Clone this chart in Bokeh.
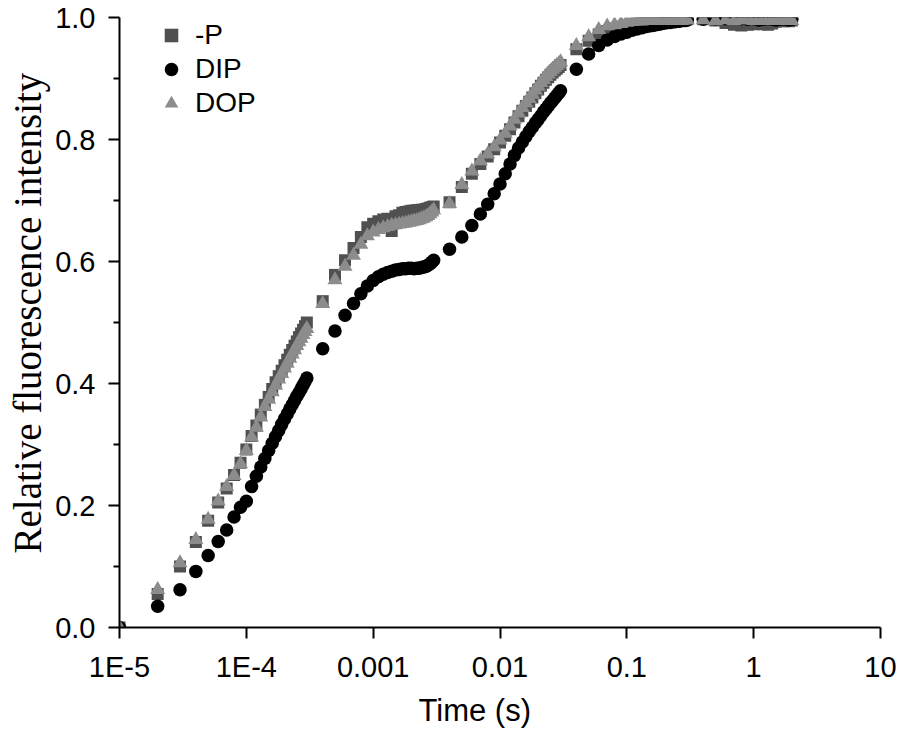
from bokeh.plotting import figure
from bokeh.models import (ColumnDataSource, Range1d, FixedTicker, CustomJSTickFormatter,
                          NumeralTickFormatter, Legend, LegendItem, Title)
from bokeh.embed import file_html
from bokeh.resources import INLINE

# ---------------- data ----------------
time_s = [
    1e-5, 2e-5, 3e-5, 4e-5, 5e-5, 6e-5, 7e-5, 8e-5, 9e-5, 1.0e-4,
    1.1e-4, 1.2e-4, 1.3e-4, 1.4e-4, 1.5e-4, 1.6e-4, 1.7e-4, 1.8e-4, 1.9e-4, 2.0e-4,
    2.1e-4, 2.2e-4, 2.3e-4, 2.4e-4, 2.5e-4, 2.6e-4, 2.7e-4, 2.8e-4, 2.9e-4, 3.0e-4,
    4e-4, 5e-4, 6e-4, 7e-4, 8e-4, 9e-4, 1.0e-3, 1.1e-3, 1.2e-3, 1.3e-3,
    1.4e-3, 1.5e-3, 1.6e-3, 1.7e-3, 1.8e-3, 1.9e-3, 2.0e-3, 2.1e-3, 2.2e-3, 2.3e-3,
    2.4e-3, 2.5e-3, 2.6e-3, 2.7e-3, 2.8e-3, 2.9e-3, 3.0e-3,
    0.004, 0.005, 0.006, 0.007, 0.008, 0.009, 0.010, 0.011, 0.012, 0.013,
    0.014, 0.015, 0.016, 0.017, 0.018, 0.019, 0.020, 0.021, 0.022, 0.023,
    0.024, 0.025, 0.026, 0.027, 0.028, 0.029, 0.030,
    0.04, 0.05, 0.06, 0.07, 0.08, 0.09, 0.10, 0.11, 0.12, 0.13,
    0.14, 0.15, 0.16, 0.17, 0.18, 0.19, 0.20, 0.21, 0.22, 0.23,
    0.24, 0.25, 0.26, 0.27, 0.28, 0.29, 0.30,
    0.4, 0.5, 0.6, 0.7, 0.8, 0.9, 1.0, 1.1, 1.2, 1.3,
    1.4, 1.5, 1.6, 1.7, 1.8, 1.9, 2.0,
]

minus_p = [
    0.000, 0.055, 0.100, 0.140, 0.175, 0.205, 0.228, 0.250, 0.270, 0.292,
    0.314, 0.331, 0.349, 0.365, 0.378, 0.391, 0.402, 0.412, 0.421, 0.430,
    0.439, 0.447, 0.455, 0.462, 0.469, 0.476, 0.482, 0.488, 0.494, 0.500,
    0.535, 0.578, 0.602, 0.622, 0.640, 0.656, 0.662, 0.666, 0.669, 0.670,
    0.650, 0.674, 0.676, 0.680, 0.681, 0.682, 0.683, 0.683, 0.684, 0.684,
    0.685, 0.685, 0.686, 0.687, 0.688, 0.689, 0.690,
    0.697, 0.722, 0.744, 0.760, 0.772, 0.784, 0.795, 0.806, 0.817, 0.828,
    0.838, 0.847, 0.855, 0.862, 0.869, 0.876, 0.882, 0.888, 0.893, 0.898,
    0.902, 0.906, 0.910, 0.913, 0.916, 0.919, 0.922,
    0.948, 0.962, 0.972, 0.978, 0.982, 0.985, 0.987, 0.989, 0.990, 0.991,
    0.992, 0.993, 0.993, 0.994, 0.994, 0.995, 0.995, 0.996, 0.996, 0.996,
    0.997, 0.997, 0.997, 0.997, 0.997, 0.997, 0.997,
    0.997, 0.995, 0.991, 0.988, 0.987, 0.988, 0.989, 0.991, 0.989, 0.988,
    0.990, 0.993, 0.995, 0.994, 0.995, 0.994, 0.995,
]

dip = [
    0.000, 0.035, 0.062, 0.092, 0.118, 0.141, 0.160, 0.181, 0.197, 0.207,
    0.231, 0.248, 0.263, 0.277, 0.290, 0.302, 0.313, 0.323, 0.333, 0.342,
    0.350, 0.358, 0.365, 0.372, 0.379, 0.385, 0.391, 0.397, 0.403, 0.409,
    0.457, 0.486, 0.512, 0.531, 0.547, 0.560, 0.569, 0.575, 0.579, 0.582,
    0.584, 0.586, 0.587, 0.588, 0.588, 0.589, 0.589, 0.588, 0.589, 0.589,
    0.590, 0.591, 0.592, 0.594, 0.596, 0.599, 0.602,
    0.620, 0.640, 0.659, 0.678, 0.694, 0.711, 0.727, 0.744, 0.760, 0.774,
    0.786, 0.796, 0.805, 0.813, 0.820, 0.827, 0.833, 0.839, 0.845, 0.850,
    0.855, 0.860, 0.864, 0.868, 0.872, 0.876, 0.880,
    0.915, 0.940, 0.954, 0.963, 0.969, 0.973, 0.976, 0.979, 0.981, 0.983,
    0.985, 0.986, 0.987, 0.988, 0.989, 0.990, 0.991, 0.992, 0.992, 0.993,
    0.993, 0.994, 0.994, 0.995, 0.995, 0.995, 0.996,
    0.997, 0.998, 0.998, 0.999, 0.998, 0.997, 0.998, 0.996, 0.997, 0.998,
    0.997, 0.996, 0.997, 0.998, 0.997, 0.996, 0.997,
]

dop = [
    0.000, 0.062, 0.106, 0.144, 0.177, 0.207, 0.231, 0.249, 0.268, 0.290,
    0.312, 0.328, 0.345, 0.362, 0.374, 0.386, 0.397, 0.407, 0.416, 0.425,
    0.433, 0.441, 0.448, 0.455, 0.462, 0.468, 0.474, 0.480, 0.485, 0.490,
    0.531, 0.570, 0.592, 0.610, 0.628, 0.642, 0.648, 0.652, 0.655, 0.657,
    0.659, 0.660, 0.661, 0.662, 0.663, 0.664, 0.665, 0.666, 0.667, 0.668,
    0.670, 0.671, 0.673, 0.675, 0.678, 0.681, 0.684,
    0.695, 0.726, 0.748, 0.765, 0.776, 0.788, 0.799, 0.810, 0.822, 0.833,
    0.843, 0.852, 0.860, 0.867, 0.874, 0.881, 0.887, 0.893, 0.898, 0.903,
    0.907, 0.911, 0.915, 0.918, 0.921, 0.924, 0.927,
    0.954, 0.968, 0.980, 0.986, 0.988, 0.990, 0.992, 0.993, 0.994, 0.994,
    0.995, 0.995, 0.996, 0.995, 0.996, 0.996, 0.996, 0.995, 0.996, 0.996,
    0.995, 0.996, 0.996, 0.995, 0.996, 0.996, 0.996,
    0.996, 0.995, 0.996, 0.995, 0.996, 0.996, 0.995, 0.996, 0.995, 0.996,
    0.996, 0.995, 0.996, 0.996, 0.995, 0.996, 0.995,
]

series_names = ["-P", "DIP", "DOP"]
x_title = "Time (s)"
y_title = "Relative fluorescence intensity"
x_tick_values = [1e-5, 1e-4, 1e-3, 1e-2, 1e-1, 1, 10]
x_tick_labels = ["1E-5", "1E-4", "0.001", "0.01", "0.1", "1", "10"]
y_tick_values = [0.0, 0.2, 0.4, 0.6, 0.8, 1.0]
y_minor_values = [0.1, 0.3, 0.5, 0.7, 0.9]

# ---------------- figure ----------------
p = figure(width=898, height=736, x_axis_type="log",
           x_range=Range1d(1e-5, 10), y_range=Range1d(0, 1.0),
           output_backend="svg", toolbar_location=None,
           min_border_left=119, min_border_right=18,
           min_border_top=17, min_border_bottom=109)
p.outline_line_color = None
p.xgrid.visible = False
p.ygrid.visible = False
p.background_fill_color = "white"
p.border_fill_color = "white"

src = ColumnDataSource(dict(t=time_s, mp=minus_p, dip=dip, dop=dop))

r1 = p.scatter("t", "mp", source=src, marker="square", size=12,
               fill_color="#505050", line_color=None)
r2 = p.scatter("t", "dip", source=src, marker="circle", size=13.5,
               fill_color="#000000", line_color=None)
r3 = p.scatter("t", "dop", source=src, marker="triangle", size=15,
               fill_color="#8c8c8c", line_color=None)

# axes
xa = p.xaxis[0]
xa.ticker = FixedTicker(ticks=x_tick_values, minor_ticks=[])
xa.formatter = CustomJSTickFormatter(args=dict(vals=x_tick_values, labs=x_tick_labels), code="""
    for (let i = 0; i < vals.length; i++) {
        if (Math.abs(Math.log10(tick) - Math.log10(vals[i])) < 1e-6) { return labs[i]; }
    }
    return "";
""")

ya = p.yaxis[0]
ya.ticker = FixedTicker(ticks=y_tick_values, minor_ticks=y_minor_values)
ya.formatter = NumeralTickFormatter(format="0.0")

for ax in (xa, ya):
    ax.axis_line_width = 2
    ax.axis_line_color = "black"
    ax.major_tick_line_width = 2
    ax.minor_tick_line_width = 2
    ax.major_tick_line_color = "black"
    ax.minor_tick_line_color = "black"
    ax.major_tick_in = 0
    ax.minor_tick_in = 0
    ax.major_tick_out = 11
    ax.major_label_text_font = "Liberation Sans"
    ax.major_label_text_font_size = "29px"
    ax.major_label_text_color = "black"

xa.minor_tick_out = 0
ya.minor_tick_out = 6
xa.major_label_standoff = 12
ya.major_label_standoff = 13

# axis titles placed as side titles (left-aligned with pixel offsets)
p.add_layout(Title(text=x_title, align="left", offset=299, standoff=11,
                   text_font="Liberation Sans", text_font_size="31px",
                   text_font_style="normal", text_color="black"), "below")
p.add_layout(Title(text=y_title, align="left", offset=74, standoff=7,
                   text_font="Liberation Serif", text_font_size="39px",
                   text_font_style="normal", text_color="black"), "left")

legend = Legend(items=[LegendItem(label=series_names[0], renderers=[r1]),
                       LegendItem(label=series_names[1], renderers=[r2]),
                       LegendItem(label=series_names[2], renderers=[r3])],
                location=(35, 507), orientation="vertical")
legend.border_line_color = None
legend.background_fill_alpha = 0
legend.padding = 0
legend.margin = 0
legend.spacing = 0
legend.glyph_width = 34
legend.glyph_height = 34
legend.label_standoff = 7
legend.label_text_font = "Liberation Sans"
legend.label_text_font_size = "28px"
legend.label_text_color = "black"
legend.label_height = 30
p.add_layout(legend)

open("out.html", "w").write(file_html(p, INLINE))
